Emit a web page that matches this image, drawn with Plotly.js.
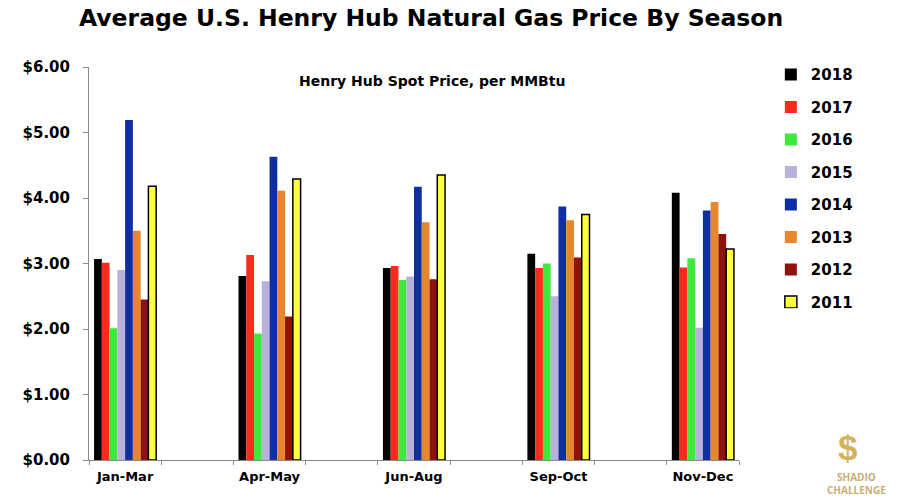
<!DOCTYPE html>
<html>
<head>
<meta charset="utf-8">
<script src="https://cdn.plot.ly/plotly-3.0.1.min.js"></script>
<style>html,body{margin:0;padding:0;background:#fff;}#chart{width:900px;height:500px;}</style>
</head>
<body>
<div id="chart"></div>
<script>
const seasons = ["Jan-Mar", "Apr-May", "Jun-Aug", "Sep-Oct", "Nov-Dec"];
const years = ["2018", "2017", "2016", "2015", "2014", "2013", "2012", "2011"];
const price2018 = [3.07, 2.81, 2.93, 3.15, 4.08];
const price2017 = [3.01, 3.13, 2.96, 2.93, 2.94];
const price2016 = [2.01, 1.93, 2.75, 3.00, 3.08];
const price2015 = [2.90, 2.73, 2.80, 2.50, 2.02];
const price2014 = [5.19, 4.63, 4.17, 3.87, 3.81];
const price2013 = [3.50, 4.11, 3.63, 3.66, 3.94];
const price2012 = [2.45, 2.19, 2.76, 3.09, 3.45];
const price2011 = [4.18, 4.29, 4.35, 3.75, 3.22];
const seriesValues = [price2018, price2017, price2016, price2015, price2014, price2013, price2012, price2011];
const colors = ["#000000", "#ff2a1c", "#3fe83c", "#b9b1dc", "#0f2fa0", "#e8862e", "#8c1308", "#ffff3c"];
const outlineColors = ["#000000", "#ff2a1c", "#3fe83c", "#b9b1dc", "#0f2fa0", "#e8862e", "#8c1308", "#000000"];
const outlineWidths = [0, 0, 0, 0, 0, 0, 0, 1.5];

const FAM = "'DejaVu Sans', Arial, sans-serif";
const boldFont = {family: FAM, color: "#000", weight: "bold"};

const traces = years.map((yr, i) => ({
  type: "bar",
  name: yr,
  x: seasons,
  y: seriesValues[i],
  legendgroup: "g" + yr,
  marker: {color: colors[i], line: {color: outlineColors[i], width: outlineWidths[i]}},
  hoverinfo: "x+y+name"
}));
// empty helper trace so the overlaid tick axis is drawn
traces.push({type: "scatter", x: [], y: [], xaxis: "x2", yaxis: "y", showlegend: false, hoverinfo: "skip"});

const layout = {
  width: 900, height: 500,
  paper_bgcolor: "#fff", plot_bgcolor: "#fff",
  margin: {l: 89, r: 161, t: 67, b: 40},
  barmode: "group",
  bargap: 0.57,
  bargroupgap: 0,
  title: {
    text: "Average U.S. Henry Hub Natural Gas Price By Season",
    font: Object.assign({}, boldFont, {size: 23.5}),
    x: 0.479, xref: "container", xanchor: "center",
    y: 0.964, yref: "container", yanchor: "middle"
  },
  xaxis: {
    type: "category",
    range: [-0.25, 4.25],
    showgrid: false,
    showline: true, linecolor: "#8a8a8a", linewidth: 1,
    ticks: "",
    tickfont: Object.assign({}, boldFont, {size: 13}),
    ticklabelstandoff: 4,
    zeroline: false
  },
  xaxis2: {
    overlaying: "x",
    side: "bottom",
    anchor: "y",
    range: [0, 9],
    dtick: 1,
    tick0: 0,
    showticklabels: false,
    ticks: "outside", ticklen: 4, tickcolor: "#8a8a8a",
    showgrid: false, zeroline: false, showline: false,
    fixedrange: true
  },
  yaxis: {
    range: [0, 6],
    dtick: 1,
    tickprefix: "$",
    tickformat: ".2f",
    showgrid: false,
    showline: true, linecolor: "#8a8a8a", linewidth: 1,
    ticks: "outside", ticklen: 5, tickcolor: "#8a8a8a",
    tickfont: Object.assign({}, boldFont, {size: 15}),
    ticklabelstandoff: 10,
    zeroline: false
  },
  legend: {
    x: 1.049, xanchor: "left",
    y: 1.022, yanchor: "top",
    font: Object.assign({}, boldFont, {size: 15}),
    tracegroupgap: 10,
    traceorder: "grouped",
    bgcolor: "rgba(0,0,0,0)"
  },
  annotations: [
    {text: "Henry Hub Spot Price, per MMBtu", xref: "paper", yref: "paper",
     x: 0.527, y: 0.965, xanchor: "center", yanchor: "middle", showarrow: false,
     font: Object.assign({}, boldFont, {size: 14})},
    {text: "$", xref: "paper", yref: "paper", x: 1.167, y: 0.032, xanchor: "center", yanchor: "middle",
     showarrow: false, font: {family: "Arial, 'Liberation Sans', sans-serif", size: 35, color: "#d4b45a", weight: "bold"}},
    {text: "SHADIO", xref: "paper", yref: "paper", x: 1.18, y: -0.042, xanchor: "center", yanchor: "middle",
     showarrow: false, font: {family: "'Open Sans', Arial, sans-serif", size: 10, color: "#c9ae74", weight: "bold"}},
    {text: "CHALLENGE", xref: "paper", yref: "paper", x: 1.18, y: -0.076, xanchor: "center", yanchor: "middle",
     showarrow: false, font: {family: "'Open Sans', Arial, sans-serif", size: 10, color: "#c9ae74", weight: "bold"}}
  ]
};

Plotly.newPlot("chart", traces, layout, {displayModeBar: false, staticPlot: true});
</script>
</body>
</html>
